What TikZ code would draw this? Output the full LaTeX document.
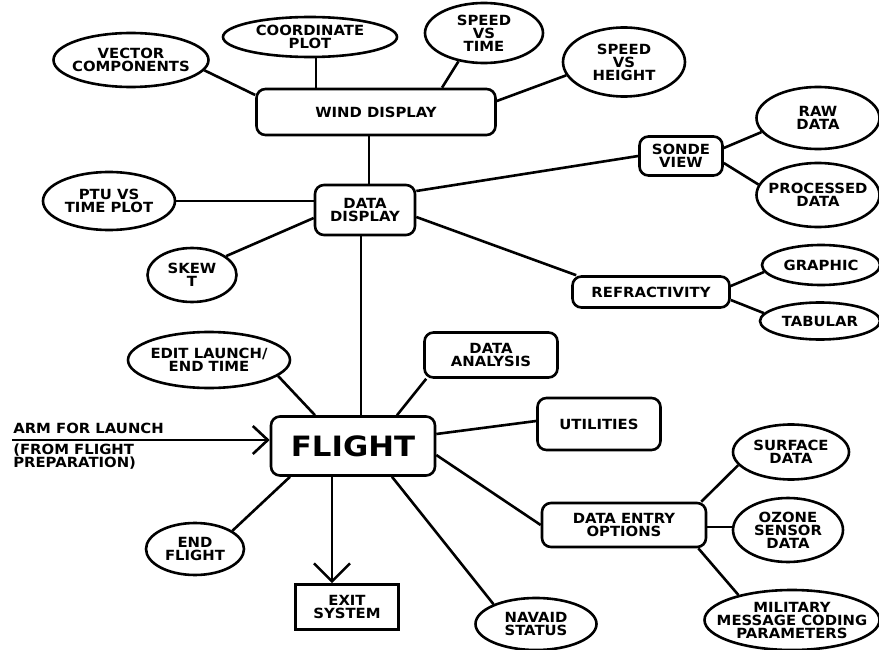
\documentclass[tikz,border=0pt]{standalone}
\usepackage{fontspec}
\setmainfont{DejaVu Sans}
\newfontfamily\widefont[FakeStretch=1.06]{DejaVu Sans}
\newfontfamily\bigfont[FakeStretch=1.1]{DejaVu Sans}
\usetikzlibrary{shapes.geometric,arrows.meta}
\newcommand\lblfont{\widefont\bfseries\fontsize{14}{13}\selectfont}
\begin{document}
\begin{tikzpicture}[x=1pt,y=-1pt,line width=2.6pt,
  ell/.style={draw, ellipse, inner sep=0pt},
  lbl/.style={align=center, font=\lblfont, inner sep=0pt},
  rbox/.style={draw, rounded corners=9pt, inner sep=0pt, align=center, font=\lblfont},
  sbox/.style={draw, inner sep=0pt, align=center, font=\lblfont},
  conn/.style={draw, line width=2.6pt}]
\useasboundingbox (0,0) rectangle (879,650);
% wind display cluster
\node[rbox, minimum width=239pt, minimum height=46pt] (wind) at (376,112) {WIND DISPLAY};
\node[ell, minimum width=155pt, minimum height=54pt, label={[lbl]center:VECTOR\\COMPONENTS}] (vc) at (131,60) {};
\node[ell, minimum width=174pt, minimum height=40pt, label={[lbl]center:COORDINATE\\PLOT}] (cp) at (310,37) {};
\node[ell, minimum width=118pt, minimum height=60pt, label={[lbl]center:SPEED\\VS\\TIME}] (svt) at (484,33) {};
\node[ell, minimum width=122pt, minimum height=69pt, label={[lbl]center:SPEED\\VS\\HEIGHT}] (svh) at (624,62) {};
% data display cluster
\node[rbox, minimum width=100pt, minimum height=50pt] (dd) at (365,210) {DATA\\DISPLAY};
\node[ell, minimum width=132pt, minimum height=58pt, label={[lbl]center:PTU VS\\TIME PLOT}] (ptu) at (109,201) {};
\node[ell, minimum width=89pt, minimum height=54pt, label={[lbl]center:SKEW\\T}] (skew) at (192,275) {};
\node[rbox, minimum width=83pt, minimum height=39pt] (sonde) at (681,156) {SONDE\\VIEW};
\node[ell, minimum width=123pt, minimum height=62pt, label={[lbl]center:RAW\\DATA}] (raw) at (818,118) {};
\node[ell, minimum width=123pt, minimum height=64pt, label={[lbl]center:PROCESSED\\DATA}] (proc) at (818,195) {};
\node[rbox, minimum width=157pt, minimum height=31pt] (refr) at (651,292) {REFRACTIVITY};
\node[ell, minimum width=118pt, minimum height=40pt, label={[lbl]center:GRAPHIC}] (graph) at (821,265) {};
\node[ell, minimum width=120pt, minimum height=37pt, label={[lbl]center:TABULAR}] (tab) at (820,321) {};
% flight cluster
\node[rbox, minimum width=164pt, minimum height=59pt, font=\bigfont\bfseries\fontsize{28}{30}\selectfont] (flight) at (353,446) {FLIGHT};
\node[rbox, minimum width=133pt, minimum height=45pt] (da) at (491,355) {DATA\\ANALYSIS};
\node[ell, minimum width=162pt, minimum height=56pt, label={[lbl]center:EDIT LAUNCH/\\END TIME}] (edit) at (209,360) {};
\node[ell, minimum width=98pt, minimum height=52pt, label={[lbl]center:END\\FLIGHT}] (ef) at (195,549) {};
\node[sbox, minimum width=103pt, minimum height=45pt] (exit) at (347,607) {EXIT\\SYSTEM};
\node[rbox, minimum width=123pt, minimum height=52pt] (util) at (599,424) {UTILITIES};
\node[rbox, minimum width=164pt, minimum height=44pt] (deo) at (624,525) {DATA ENTRY\\OPTIONS};
\node[ell, minimum width=116pt, minimum height=55pt, label={[lbl]center:SURFACE\\DATA}] (surf) at (791,452) {};
\node[ell, minimum width=110pt, minimum height=64pt, label={[lbl]center:OZONE\\SENSOR\\DATA}] (oz) at (788,530) {};
\node[ell, minimum width=175pt, minimum height=60pt, label={[lbl]center:MILITARY\\MESSAGE CODING\\PARAMETERS}] (mil) at (792,620) {};
\node[ell, minimum width=121pt, minimum height=52pt, label={[lbl]center:NAVAID\\STATUS}] (nav) at (536,624) {};
% input texts
\node[lbl, anchor=west] (armtxt) at (12,428.5) {ARM FOR LAUNCH};
\node[lbl, anchor=west, align=left] (fromtxt) at (12,457) {(FROM FLIGHT\\PREPARATION)};
\coordinate (armstart) at (12,440);
% connectors
\draw[conn] (vc.352) -- ([yshift=17pt]wind.west);
\draw[conn] ([xshift=6pt]cp.south) -- ([xshift=6pt]cp.south |- wind.north);
\draw[conn] (svt.228) -- ([xshift=66pt]wind.north);
\draw[conn] (svh.193) -- ([yshift=11pt]wind.east);
\draw[conn] ([xshift=-7pt]wind.south) -- ([xshift=-7pt]wind.south |- dd.north);
\draw[conn] ([yshift=19pt]dd.east) -- (sonde.west);
\draw[conn] ([yshift=8pt]sonde.east) -- (raw.194);
\draw[conn] ([yshift=-7pt]sonde.east) -- (proc.170);
\draw[conn] (ptu.east) -- (ptu.east -| dd.west);
\draw[conn] (skew.29) -- ([yshift=-8pt]dd.west);
\draw[conn] ([yshift=-7pt]dd.east) -- ([xshift=5pt]refr.north west);
\draw[conn] ([yshift=6pt]refr.east) -- (graph.187);
\draw[conn] ([yshift=-8pt]refr.east) -- (tab.172);
\draw[conn] ([xshift=-4pt]dd.south) -- ([xshift=-4pt]dd.south |- flight.north);
\draw[conn] (edit.347) -- ([xshift=-38pt]flight.north);
\draw[conn] ([xshift=3pt]da.south west) -- ([xshift=44pt]flight.north);
\draw[conn] ([yshift=12pt]flight.east) -- ([yshift=3pt]util.west);
\draw[conn] ([yshift=-9pt]flight.east) -- (deo.west);
\draw[conn] ([xshift=39pt]flight.south) -- (nav.155);
\draw[conn] ([xshift=-63pt]flight.south) -- (ef.26);
\draw[conn, -{Straight Barb[length=18pt,width=36pt,line width=2.6pt]}] ([xshift=-21pt]flight.south) -- ([xshift=-21pt]flight.south |- exit.north);
\draw[conn, -{Straight Barb[length=15pt,width=28pt,line width=2.6pt]}] (armstart) -- (armstart -| flight.west);
\draw[conn] ([xshift=-6pt]deo.north east) -- (surf.194);
\draw[conn] ([yshift=-2pt]deo.east) -- ([yshift=-2pt]deo.east -| oz.west);
\draw[conn] ([xshift=-9pt]deo.south east) -- (mil.155);
\end{tikzpicture}
\end{document}
